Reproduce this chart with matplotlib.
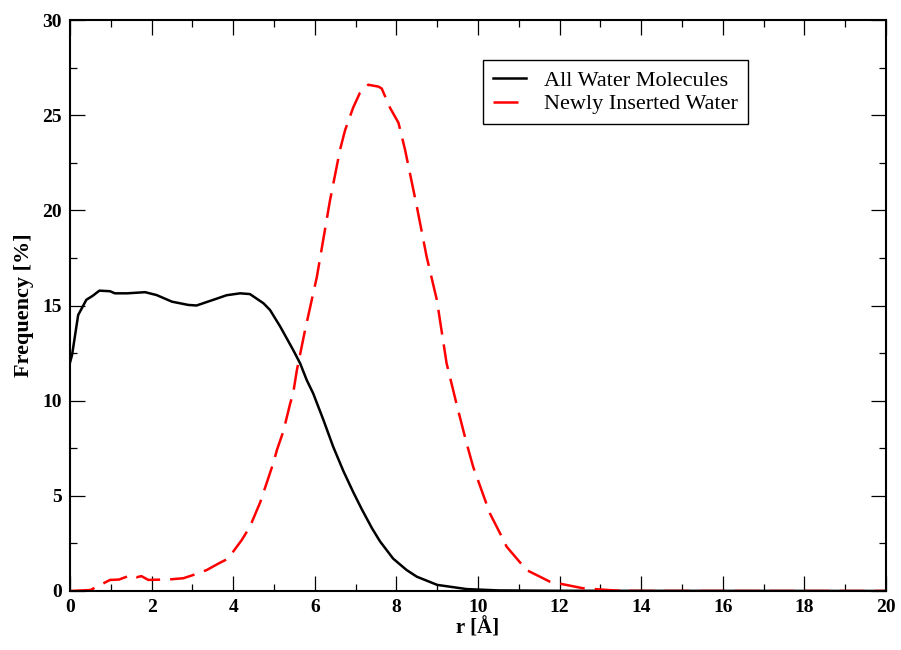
import matplotlib
matplotlib.use("Agg")
import matplotlib.pyplot as plt
from matplotlib.ticker import MultipleLocator

# distance r [A] and frequency [%]
r_all = [0.0, 0.05, 0.2, 0.4, 0.55, 0.72, 0.98, 1.1, 1.4, 1.84, 2.12, 2.5, 2.9,
         3.1, 3.5, 3.84, 4.17, 4.41, 4.74, 4.9, 5.15, 5.47, 5.64, 5.8, 5.96,
         6.21, 6.45, 6.7, 6.94, 7.15, 7.4, 7.6, 7.92, 8.25, 8.5, 9.0, 9.72,
         10.5, 12.0, 20.0]
freq_all = [12.0, 12.4, 14.5, 15.3, 15.5, 15.78, 15.75, 15.64, 15.64, 15.7,
            15.55, 15.2, 15.03, 15.0, 15.29, 15.54, 15.64, 15.6, 15.12, 14.77,
            13.9, 12.66, 11.96, 11.09, 10.38, 8.99, 7.58, 6.3, 5.2, 4.3, 3.3,
            2.6, 1.7, 1.1, 0.75, 0.32, 0.1, 0.03, 0.01, 0.0]

r_new = [0.0, 0.5, 0.98, 1.2, 1.39, 1.5, 1.63, 1.75, 1.92, 2.45, 2.78, 3.02,
         3.35, 3.68, 3.84, 4.0, 4.21, 4.41, 4.66, 4.98, 5.07, 5.23, 5.39, 5.47,
         5.56, 5.76, 6.05, 6.37, 6.62, 6.74, 6.94, 7.1, 7.31, 7.56, 7.64, 7.84,
         8.05, 8.21, 8.5, 8.74, 8.99, 9.23, 9.48, 9.72, 9.88, 10.29, 10.54,
         10.7, 11.19, 11.76, 12.58, 13.4, 14.0, 20.0]
freq_new = [0.0, 0.05, 0.58, 0.6, 0.75, 0.84, 0.72, 0.78, 0.58, 0.61, 0.67,
            0.84, 1.1, 1.49, 1.66, 2.07, 2.68, 3.38, 4.65, 6.7, 7.4, 8.4, 9.8,
            10.4, 11.6, 13.7, 16.5, 20.5, 23.2, 24.2, 25.4, 26.15, 26.6, 26.5,
            26.4, 25.4, 24.6, 23.2, 20.2, 17.57, 15.3, 11.96, 9.77, 7.76, 6.53,
            4.08, 3.03, 2.33, 1.1, 0.49, 0.14, 0.02, 0.0, 0.0]

plt.rcParams['font.family'] = ['Liberation Serif', 'DejaVu Serif']

fig = plt.figure(figsize=(9.01, 6.5), dpi=100)
ax = fig.add_axes([0.0777, 0.0908, 0.9057, 0.8784])

ax.plot(r_all, freq_all, color='black', lw=1.8, label='All Water Molecules')
ax.plot(r_new, freq_new, color='red', lw=1.8, dashes=(10, 4),
        label='Newly Inserted Water')

ax.set_xlim(0, 20)
ax.set_ylim(0, 30)
ax.xaxis.set_major_locator(MultipleLocator(2))
ax.xaxis.set_minor_locator(MultipleLocator(1))
ax.yaxis.set_major_locator(MultipleLocator(5))
ax.yaxis.set_minor_locator(MultipleLocator(2.5))
ax.tick_params(which='both', direction='in', top=True, right=True, width=0.9)
ax.tick_params(which='major', length=10.8, pad=6, labelsize=14)
ax.tick_params(which='minor', length=5)
for lab in ax.get_xticklabels() + ax.get_yticklabels():
    lab.set_fontweight('bold')
for sp in ax.spines.values():
    sp.set_linewidth(1.5)

ax.set_xlabel('r [Å]', fontsize=15, fontweight='bold', labelpad=1)
ax.set_ylabel('Frequency [%]', fontsize=16, fontweight='bold', labelpad=6)

leg = ax.legend(loc='upper right', bbox_to_anchor=(0.831, 0.930),
                borderaxespad=0, fontsize=16, handlelength=1.5,
                handletextpad=0.8, labelspacing=0.15, borderpad=0.45,
                fancybox=False, framealpha=1)
leg.get_frame().set_edgecolor('black')
leg.get_frame().set_linewidth(1.0)

fig.savefig('out.png', dpi=100)
